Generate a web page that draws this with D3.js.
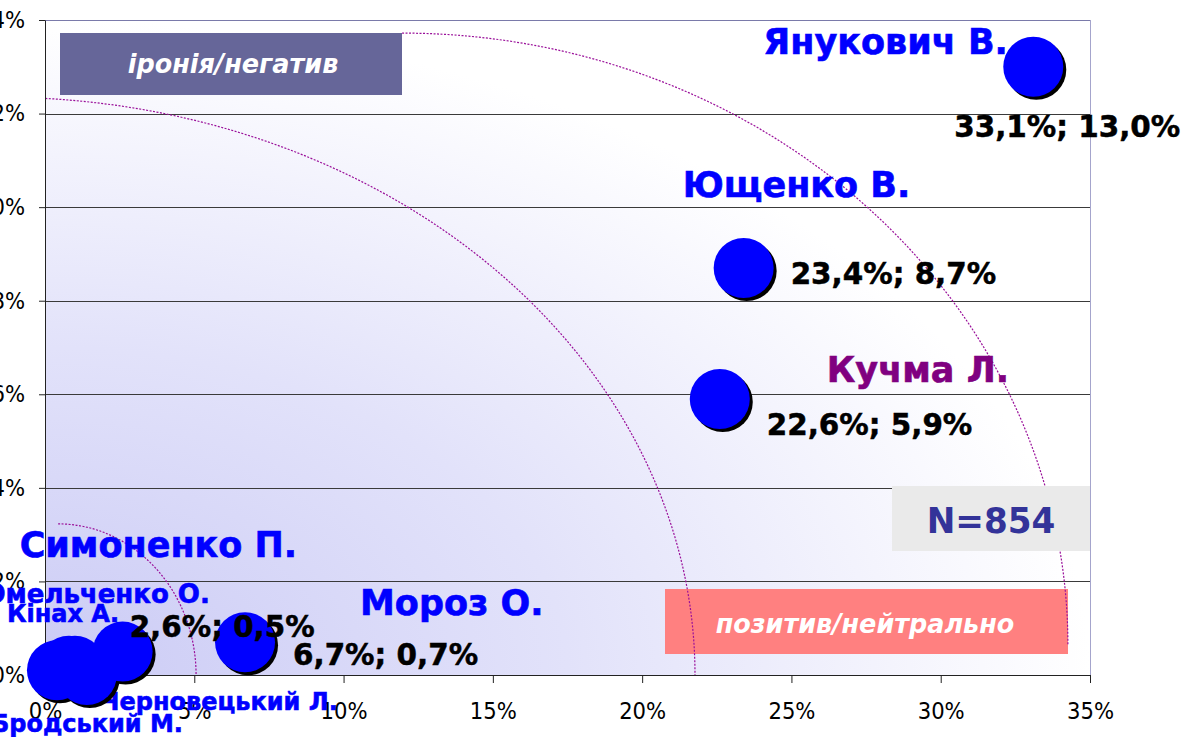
<!DOCTYPE html>
<html><head><meta charset="utf-8">
<script src="https://cdn.jsdelivr.net/npm/d3@7"></script>
<style>body{margin:0;background:#fff}svg{display:block}</style>
</head><body>
<script>
// ---------- data ----------
const names   = ["Янукович В.","Ющенко В.","Кучма Л.","Мороз О.","Симоненко П.","Омельченко О.","Кінах А.","Черновецький Л.","Бродський М."];
const xValues = [33.1, 23.4, 22.6, 6.7, 2.6, 1.0, 0.8, 1.4, 0.4];   // позитив/нейтрально, %
const yValues = [13.0,  8.7,  5.9, 0.7, 0.5, 0.2, 0.2, 0.0, 0.1];   // іронія/негатив, %
const showValue = [true, true, true, true, true, false, false, false, false];
const xTickValues = [0,5,10,15,20,25,30,35];
const yTickValues = [0,2,4,6,8,10,12,14];
const sampleText = "N=854";
const zoneTexts = ["іронія/негатив","позитив/нейтрально"];

// ---------- layout (pixels, annotations) ----------
const W = 1187, H = 737;
const plot = {left:45, top:20, right:1090, bottom:675};
// name label offsets from bubble centre: [dx, dy, anchor, size]
const nameLayout = [
  [-270,-13,"start",35],[-61,-71,"start",35],[107,-17,"start",35],[115,-27,"start",35],
  [-103,-95,"start",35],[135,-63,"end",26],[-62,-44,"start",24],[251,35,"end",24],[126,62,"end",24]
];
const valueLayout = [[-79,70],[47,16],[47,36],[48,23],[7,-15]];
const nameColors = ["#0000ff","#0000ff","#800080","#0000ff","#0000ff","#0000ff","#0000ff","#0000ff","#0000ff"];
// decorative dotted ellipse quarters in data units: [cx, cy, rx, ry]
const arcs = [[11.96,0.64,22.3,13.08],[-1.51,0,23.28,12.35],[0.44,0,4.62,3.23]];

const fmt = d3.formatLocale({decimal:",",thousands:" ",grouping:[3],currency:["",""]}).format(".1f");

const svg = d3.select("body").append("svg").attr("width",W).attr("height",H);
const defs = svg.append("defs");
const grad = defs.append("radialGradient").attr("id","bg").attr("cx",0).attr("cy",1).attr("r",1).attr("fx",0).attr("fy",1);
grad.append("stop").attr("offset","0").attr("stop-color","#cbcbf5");
grad.append("stop").attr("offset","0.5").attr("stop-color","#e2e2fa");
grad.append("stop").attr("offset","1").attr("stop-color","#ffffff");
defs.append("clipPath").attr("id","clip").append("rect")
  .attr("x",plot.left).attr("y",plot.top).attr("width",plot.right-plot.left).attr("height",plot.bottom-plot.top);

const x = d3.scaleLinear().domain([0,35]).range([plot.left, plot.right]);
const y = d3.scaleLinear().domain([0,14]).range([plot.bottom, plot.top]);

function squeeze(sel,k){ sel.each(function(){ const l=this.getComputedTextLength(); d3.select(this).attr("textLength",l*k).attr("lengthAdjust","spacingAndGlyphs");}); }

// plot background
svg.append("rect").attr("x",plot.left).attr("y",plot.top).attr("width",plot.right-plot.left).attr("height",plot.bottom-plot.top)
  .attr("fill","url(#bg)");

// gridlines
svg.append("g").selectAll("line").data(yTickValues.filter(d=>d>0)).join("line")
  .attr("x1",plot.left).attr("x2",plot.right).attr("y1",d=>Math.round(y(d))+0.5).attr("y2",d=>Math.round(y(d))+0.5)
  .attr("stroke",d=>d===14?"#7a7aaa":"#3a3a3a").attr("stroke-width",1);
// right border
svg.append("line").attr("x1",plot.right+0.5).attr("x2",plot.right+0.5).attr("y1",plot.top).attr("y2",plot.bottom)
  .attr("stroke","#a4a4cc");

// pink zone box
svg.append("rect").attr("x",665).attr("y",589).attr("width",403).attr("height",65).attr("fill","#ff8080");
svg.append("text").attr("x",865).attr("y",633).attr("text-anchor","middle")
  .attr("font-family","DejaVu Sans").attr("font-weight","bold").attr("font-style","italic").attr("font-size",26)
  .attr("fill","#fff").text(zoneTexts[1]).call(squeeze,0.98);

// dotted arcs
const arcG = svg.append("g").attr("clip-path","url(#clip)");
arcG.selectAll("path").data(arcs).join("path")
  .attr("d",d=>{
    const cx=x(d[0]), cy=y(d[1]), rx=x(d[0]+d[2])-x(d[0]), ry=y(d[1])-y(d[1]+d[3]);
    return `M${cx},${cy-ry} A${rx},${ry} 0 0 1 ${cx+rx},${cy}`;
  })
  .attr("fill","none").attr("stroke","#9a109a").attr("stroke-width",1.2).attr("stroke-dasharray","2,1.5");

// N box
svg.append("rect").attr("x",892).attr("y",486).attr("width",198).attr("height",65).attr("fill","#eaeaea");
svg.append("text").attr("x",991).attr("y",533).attr("text-anchor","middle")
  .attr("font-family","DejaVu Sans").attr("font-weight","bold").attr("font-size",36)
  .attr("fill","#333399").text(sampleText).call(squeeze,0.95);

// iron box
svg.append("rect").attr("x",60).attr("y",33).attr("width",342).attr("height",62).attr("fill","#666699");
svg.append("text").attr("x",233).attr("y",73).attr("text-anchor","middle")
  .attr("font-family","DejaVu Sans").attr("font-weight","bold").attr("font-style","italic").attr("font-size",26)
  .attr("fill","#fff").text(zoneTexts[0]).call(squeeze,0.98);

// axes
const yAxis = svg.append("g").attr("transform",`translate(${plot.left},0)`)
  .call(d3.axisLeft(y).tickValues(yTickValues).tickSize(6).tickSizeOuter(0).tickPadding(14).tickFormat(d=>d+"%"));
const xAxis = svg.append("g").attr("transform",`translate(0,${plot.bottom})`)
  .call(d3.axisBottom(x).tickValues(xTickValues).tickSize(8).tickSizeOuter(0).tickPadding(20).tickFormat(d=>d+"%"));
[yAxis,xAxis].forEach(a=>{
  a.selectAll("text").attr("font-family","DejaVu Sans").attr("font-size",23).attr("fill","#000").call(squeeze,0.92);
  a.selectAll("line").attr("stroke","#222");
  a.select(".domain").attr("stroke","#222");
});

const pts = names.map((n,i)=>({name:n, xv:xValues[i], yv:yValues[i], i}));

// name labels (under bubbles)
svg.append("g").selectAll("text").data(pts).join("text")
  .attr("x",d=>x(d.xv)+nameLayout[d.i][0]).attr("y",d=>y(d.yv)+nameLayout[d.i][1])
  .attr("text-anchor",d=>nameLayout[d.i][2]).attr("font-size",d=>nameLayout[d.i][3])
  .attr("font-family","DejaVu Sans").attr("font-weight","bold").attr("fill",d=>nameColors[d.i])
  .attr("stroke",d=>nameColors[d.i]).attr("stroke-width",0.6)
  .text(d=>d.name);

// bubbles with shadow
const bub = svg.append("g");
bub.selectAll("circle.sh").data(pts).join("circle").attr("class","sh")
  .attr("cx",d=>x(d.xv)+3).attr("cy",d=>y(d.yv)+3).attr("r",30).attr("fill","#000");
bub.selectAll("circle.b").data(pts).join("circle").attr("class","b")
  .attr("cx",d=>x(d.xv)).attr("cy",d=>y(d.yv)).attr("r",30).attr("fill","#0000ff");

// value labels
svg.append("g").selectAll("text").data(pts.filter(d=>showValue[d.i])).join("text")
  .attr("x",d=>x(d.xv)+valueLayout[d.i][0]).attr("y",d=>y(d.yv)+valueLayout[d.i][1])
  .attr("font-family","DejaVu Sans").attr("font-weight","bold").attr("font-size",30).attr("fill","#000")
  .attr("stroke","#000").attr("stroke-width",0.5)
  .text(d=>fmt(d.xv)+"%; "+fmt(d.yv)+"%").call(squeeze,0.98);
</script>
</body></html>
